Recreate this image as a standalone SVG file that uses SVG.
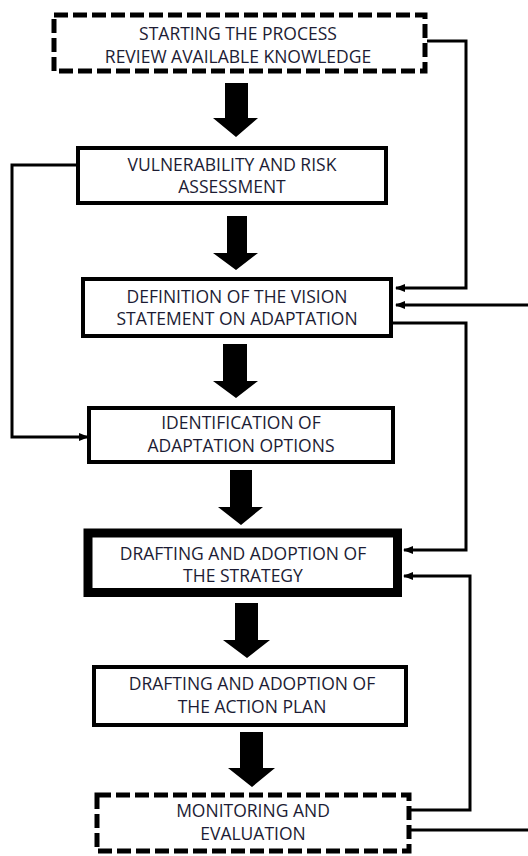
<svg xmlns="http://www.w3.org/2000/svg" width="528" height="856" viewBox="0 0 528 856">
<style>
.box{fill:#fff;stroke:#000;stroke-width:4}
.dash{fill:#fff;stroke:#000;stroke-width:5;stroke-dasharray:14 5}
.thick{fill:#fff;stroke:#000;stroke-width:9}
.t{font-family:"Open Sans","Liberation Sans",sans-serif;font-size:17.5px;font-weight:500;fill:#1c1c34;text-anchor:middle}
.blk{fill:#000}
.c{fill:none;stroke:#000;stroke-width:3}
</style>
<defs>
<marker id="ah" markerUnits="userSpaceOnUse" markerWidth="10" markerHeight="10" refX="9" refY="5" orient="auto">
<path d="M0,1 L10,5 L0,9 z" fill="#000"/>
</marker>
</defs>
<g id="connectors">
<path class="c" d="M427,41 H466 V288 H396" marker-end="url(#ah)"/>
<path class="c" d="M528,305 H396" marker-end="url(#ah)"/>
<path class="c" d="M393,323 H466 V550 H404" marker-end="url(#ah)"/>
<path class="c" d="M411,810 H470 V576 H404" marker-end="url(#ah)"/>
<path class="c" d="M411,830 H528"/>
<path class="c" d="M76,165 H12 V437 H88" marker-end="url(#ah)"/>
<polygon class="blk" points="225,83 248,83 248,118 258,118 236,137 213,118 225,118"/>
<polygon class="blk" points="227,216 247,216 247,253 258,253 236,270 213,253 227,253"/>
<polygon class="blk" points="223,344 247,344 247,381 258,381 236,398 213,381 223,381"/>
<polygon class="blk" points="230,470 252,470 252,507 263,507 241,525 218,507 230,507"/>
<polygon class="blk" points="235,603 258,603 258,640 270,640 247,658 223,640 235,640"/>
<polygon class="blk" points="240,732 263,732 263,768 275,768 252,787 228,768 240,768"/>
</g>
<g id="n1">
<rect class="dash" x="54" y="15" width="371" height="56"/>
<text class="t" x="238" y="40">STARTING THE PROCESS</text>
<text class="t" x="238" y="63">REVIEW AVAILABLE KNOWLEDGE</text>
</g>
<g id="n2">
<rect class="box" x="78" y="148" width="308" height="55"/>
<text class="t" x="232" y="171">VULNERABILITY AND RISK</text>
<text class="t" x="232" y="193">ASSESSMENT</text>
</g>
<g id="n3">
<rect class="box" x="83" y="279" width="308" height="57"/>
<text class="t" x="237" y="303">DEFINITION OF THE VISION</text>
<text class="t" x="237" y="325">STATEMENT ON ADAPTATION</text>
</g>
<g id="n4">
<rect class="box" x="89" y="408" width="304" height="54"/>
<text class="t" x="241" y="429">IDENTIFICATION OF</text>
<text class="t" x="241" y="452">ADAPTATION OPTIONS</text>
</g>
<g id="n5">
<rect class="thick" x="88" y="533" width="309.5" height="59.5"/>
<text class="t" x="243" y="560">DRAFTING AND ADOPTION OF</text>
<text class="t" x="243" y="582">THE STRATEGY</text>
</g>
<g id="n6">
<rect class="box" x="94" y="667" width="312" height="58"/>
<text class="t" x="252" y="690">DRAFTING AND ADOPTION OF</text>
<text class="t" x="252" y="713">THE ACTION PLAN</text>
</g>
<g id="n7">
<rect class="dash" x="97" y="795" width="312" height="56"/>
<text class="t" x="253" y="817">MONITORING AND</text>
<text class="t" x="253" y="840">EVALUATION</text>
</g>
</svg>
